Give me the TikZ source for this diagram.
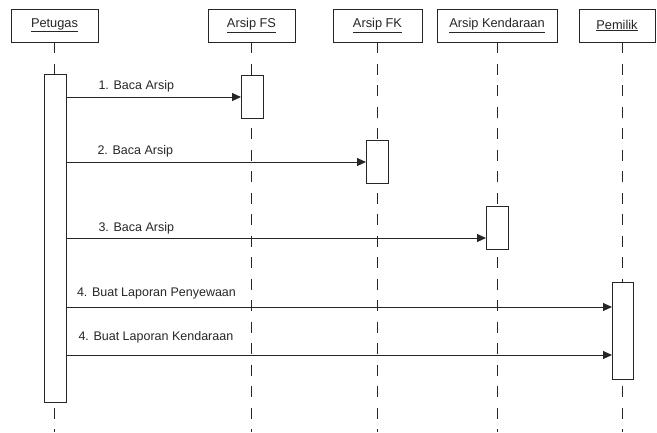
\documentclass[tikz,border=0pt]{standalone}
\usepackage{fontspec}
\setmainfont{Liberation Sans}
\usetikzlibrary{arrows.meta}
\definecolor{ink}{HTML}{262626}
\begin{document}
\begin{tikzpicture}[x=1pt,y=-1pt,
  every node/.style={inner sep=0pt,outer sep=0pt},
  head/.style={draw=ink,line width=1pt,fill=white,minimum height=33pt,
    font=\fontsize{12.8}{15}\selectfont,text=ink},
  act/.style={draw=ink,line width=1pt,fill=white,minimum width=22pt},
  life/.style={draw=ink,line width=1pt,dash pattern=on 11pt off 10.5pt},
  msg/.style={draw=black!85,line width=1pt,-{Triangle[length=9pt,width=8pt]}},
  lbl/.style={anchor=west,font=\fontsize{12.5}{15}\selectfont,text=ink}]
\useasboundingbox (0,0) rectangle (657,432);

% participants
\node[head,minimum width=87pt] (pet) at (54.5,25.5) {\underline{Petugas}};
\node[head,minimum width=87pt] (fs)  at (251.5,25.5) {\underline{Arsip FS}};
\node[head,minimum width=89pt] (fk)  at (377.5,25.5) {\underline{Arsip FK}};
\node[head,minimum width=120pt] (kd) at (497,25.5) {\underline{Arsip Kendaraan}};
\node[head,minimum width=76pt] (pm)  at (617,25.5) {\underline{Pemilik}};

% lifeline ends
\coordinate (petE) at (54.5,432);
\coordinate (fsE)  at (251.5,432);
\coordinate (fkE)  at (377.5,432);
\coordinate (kdE)  at (497,432);
\coordinate (pmE)  at (622.5,432);

\draw[life] (pet.south) -- (petE);
\draw[life] (fs.south) -- (fsE);
\draw[life] (fk.south) -- (fkE);
\draw[life] (kd.south) -- (kdE);
\draw[life] (pet.south -| pmE) -- (pmE);

% activations
\node[act,minimum height=328pt] (apet) at (55,238) {};
\node[act,minimum height=43pt]  (afs)  at (252,96.5) {};
\node[act,minimum height=43pt]  (afk)  at (377,161.5) {};
\node[act,minimum height=43pt]  (akd)  at (497,227.5) {};
\node[act,minimum height=97pt,minimum width=21pt] (apm) at (622.5,330.5) {};

% message rows
\coordinate (m1) at (0,97);
\coordinate (m2) at (0,162);
\coordinate (m3) at (0,238);
\coordinate (m4) at (0,307);
\coordinate (m5) at (0,355);

\draw[msg] (apet.east |- m1) -- (afs.west |- m1);
\draw[msg] (apet.east |- m2) -- (afk.west |- m2);
\draw[msg] (apet.east |- m3) -- (akd.west |- m3);
\draw[msg] (apet.east |- m4) -- (apm.west |- m4);
\draw[msg] (apet.east |- m5) -- (apm.west |- m5);

% message labels
\node[lbl] (l1) at (98.5,86) {1. Baca Arsip};
\node[lbl] (l2) at (97.5,151) {2. Baca Arsip};
\node[lbl] (l3) at (98.5,228) {3. Baca Arsip};
\node[lbl] (l4) at (77,293) {4. Buat Laporan Penyewaan};
\node[lbl] (l5) at (78.5,337) {4. Buat Laporan Kendaraan};
\end{tikzpicture}
\end{document}
